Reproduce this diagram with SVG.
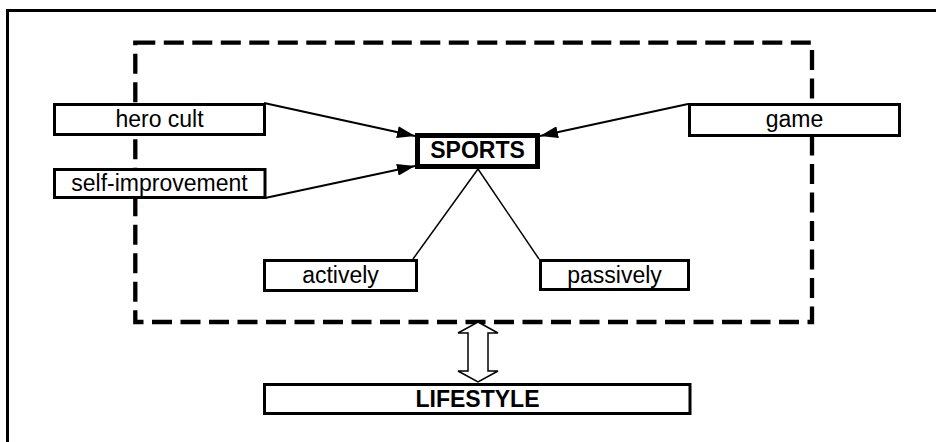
<svg xmlns="http://www.w3.org/2000/svg" width="936" height="442" viewBox="0 0 936 442">
<defs>
<style>
.box{fill:#fff;stroke:#000;stroke-width:3}
.t{font-family:"Liberation Sans",Arial,sans-serif;font-size:23px;fill:#000;text-anchor:middle}
.b{font-weight:bold}
.ln{stroke:#000;stroke-width:2;fill:none}
.thin{stroke:#000;stroke-width:1.5;fill:none}
</style>
<marker id="ah" viewBox="0 0 18 12" refX="18" refY="6" markerWidth="18" markerHeight="12" markerUnits="userSpaceOnUse" orient="auto">
<path d="M0,0 L18,6 L0,12 Z" fill="#000"/>
</marker>
</defs>
<rect width="936" height="442" fill="#fff"/>
<path d="M7.5,1000 V10.5 H1000" fill="none" stroke="#000" stroke-width="3"/>
<rect x="135.3" y="42.7" width="676.7" height="279.3" fill="none" stroke="#000" stroke-width="4.3" stroke-dasharray="20 8.5"/>
<g id="connectors">
<line class="ln" x1="264" y1="103" x2="415" y2="136" marker-end="url(#ah)"/>
<line class="ln" x1="265" y1="198" x2="415" y2="166" marker-end="url(#ah)"/>
<line class="ln" x1="688" y1="104" x2="540" y2="136" marker-end="url(#ah)"/>
<line class="thin" x1="478" y1="169" x2="413" y2="259"/>
<line class="thin" x1="478" y1="169" x2="539" y2="259"/>
<polygon points="478,322 498,333 488,333 488,371 498,371 478,382 458,371 468,371 468,333 458,333" fill="#fff" stroke="#000" stroke-width="1.5"/>
</g>
<g id="hero-cult"><rect class="box" x="54.5" y="104.5" width="210" height="30"/><text class="t" x="159.5" y="127">hero cult</text></g>
<g id="self-improvement"><rect class="box" x="54.5" y="169.5" width="210.5" height="28"/><text class="t" x="159.5" y="191">self-improvement</text></g>
<g id="game"><rect class="box" x="689.5" y="104.5" width="210" height="31"/><text class="t" x="794.5" y="127">game</text></g>
<g id="sports"><rect x="417.5" y="135.5" width="120" height="31" fill="#fff" stroke="#000" stroke-width="5"/><text class="t b" x="477.5" y="158">SPORTS</text></g>
<g id="actively"><rect class="box" x="264.5" y="260.5" width="152" height="30"/><text class="t" x="340.5" y="283">actively</text></g>
<g id="passively"><rect class="box" x="540.5" y="260.5" width="148" height="29"/><text class="t" x="614.5" y="283">passively</text></g>
<g id="lifestyle"><rect class="box" x="264.5" y="384.5" width="425.5" height="29"/><text class="t b" x="477.5" y="407">LIFESTYLE</text></g>
</svg>
